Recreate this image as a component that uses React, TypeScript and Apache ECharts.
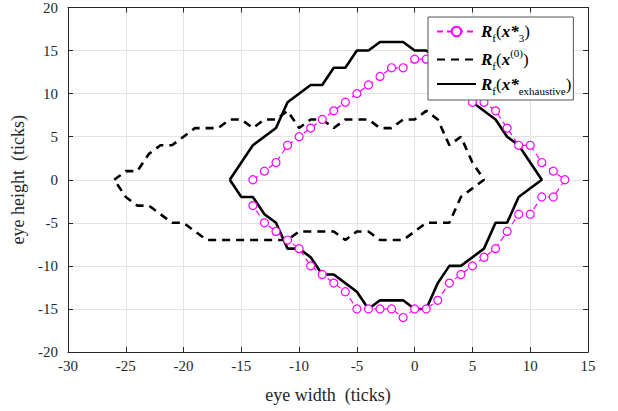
import React, { useEffect, useRef } from "react";
import * as echarts from "echarts";

// ---- data ----
const xTicksMin = -30;
const xTicksMax = 15;
const yTicksMin = -20;
const yTicksMax = 20;

// R_f(x*_3)  (magenta, dashed with circles)
const magentaX = [-14, -13, -12, -11, -10, -9, -8, -7, -6, -5, -4, -3, -2, -1, 0, 1, 2, 3, 4, 5, 6, 7, 8, 9, 10, 11, 12, 13,
  12, 11, 10, 9, 8, 7, 6, 5, 4, 3, 2, 1, 0, -1, -2, -3, -4, -5, -6, -7, -8, -9, -10, -11, -12, -13, -14];
const magentaY = [0, 1, 2, 4, 5, 6, 7, 8, 9, 10, 11, 12, 13, 13, 14, 14, 13, 12, 11, 9, 9, 8, 6, 4, 4, 2, 1, 0,
  -2, -2, -4, -4, -6, -8, -9, -10, -11, -12, -14, -15, -15, -16, -15, -15, -15, -15, -13, -12, -11, -10, -8, -7, -6, -5, -3];

// R_f(x^(0))  (black dashed)
const dashedX = [-26, -25, -24, -23, -22, -21, -20, -19, -18, -17, -16, -15, -14, -13, -12, -11, -10, -9, -8, -7, -6, -5, -4, -3, -2, -1, 0, 1, 2, 3, 4, 5, 6,
  5, 4, 3, 2, 1, 0, -1, -2, -3, -4, -5, -6, -7, -8, -9, -10, -11, -12, -13, -14, -15, -16, -17, -18, -19, -20, -21, -22, -23, -24, -25, -26];
const dashedY = [0, 1, 1, 3, 4, 4, 5, 6, 6, 6, 7, 7, 6, 7, 7, 8, 6, 7, 7, 6, 7, 7, 7, 6, 6, 7, 7, 8, 7, 4, 5, 2, 0,
  -1, -2, -5, -5, -5, -6, -7, -7, -7, -6, -6, -7, -6, -6, -6, -6, -7, -7, -7, -7, -7, -7, -7, -7, -6, -5, -5, -4, -3, -3, -2, 0];

// R_f(x*_exhaustive)  (black solid)
const solidX = [-16, -14, -12, -11, -9, -8, -7, -6, -5, -4, -3, -2, -1, 0, 1, 2, 3, 4, 5, 7, 8, 9, 11,
  9, 8, 7, 6, 4, 3, 2, 1, 0, -1, -3, -4, -5, -6, -7, -8, -9, -10, -11, -12, -13, -14, -15, -16];
const solidY = [0, 4, 6, 9, 11, 11, 13, 13, 15, 15, 16, 16, 16, 15, 15, 14, 13, 11, 9, 7, 5, 4, 0,
  -2, -5, -5, -8, -10, -10, -12, -15, -15, -14, -14, -15, -13, -12, -11, -11, -9, -8, -8, -5, -4, -2, -2, 0];

const seriesNames = ["magenta", "initial", "exhaustive"];

const zip = (xs: number[], ys: number[]) => xs.map((x, i) => [x, ys[i]]);

const SERIF = "'Liberation Serif', 'Times New Roman', serif";
const AX = "#262626";

export default function App() {
  const ref = useRef<HTMLDivElement>(null);
  useEffect(() => {
    if (!ref.current) return;
    const chart = echarts.init(ref.current, undefined, { renderer: "svg" });
    const legendLabels: Record<string, string> = {
      magenta: "{R|R}{sub|f}{p|(}{X|x*}{sub|3}{p|)}",
      initial: "{R|R}{sub|f}{p|(}{X|x}{sup|(0)}{p|)}",
      exhaustive: "{R|R}{sub|f}{p|(}{X|x*}{subw|exhaustive}{p|)}",
    };
    const tickAxisCommon = {
      axisLine: { show: true, onZero: false, lineStyle: { color: AX, width: 1 } },
      axisTick: { show: true, inside: true, length: 5, lineStyle: { color: AX } },
    };
    chart.setOption({
      animation: false,
      backgroundColor: "#ffffff",
      grid: { left: 68, right: 30, top: 5, bottom: 59, containLabel: false },
      xAxis: [
        {
          type: "value",
          min: xTicksMin,
          max: xTicksMax,
          interval: 5,
          position: "bottom",
          ...tickAxisCommon,
          axisLabel: { color: AX, fontFamily: SERIF, fontSize: 15, margin: 6 },
          splitLine: { show: true, lineStyle: { color: "#e3e3e3", width: 1 } },
          name: "eye width  (ticks)",
          nameLocation: "middle",
          nameGap: 34,
          nameTextStyle: { color: AX, fontFamily: SERIF, fontSize: 18 },
        },
        {
          type: "value",
          min: xTicksMin,
          max: xTicksMax,
          interval: 5,
          position: "top",
          ...tickAxisCommon,
          axisLabel: { show: false },
          splitLine: { show: false },
        },
      ],
      yAxis: [
        {
          type: "value",
          min: yTicksMin,
          max: yTicksMax,
          interval: 5,
          position: "left",
          ...tickAxisCommon,
          axisLabel: { color: AX, fontFamily: SERIF, fontSize: 15, margin: 10 },
          splitLine: { show: true, lineStyle: { color: "#e3e3e3", width: 1 } },
          name: "eye height  (ticks)",
          nameLocation: "middle",
          nameGap: 38,
          nameTextStyle: { color: AX, fontFamily: SERIF, fontSize: 18 },
        },
        {
          type: "value",
          min: yTicksMin,
          max: yTicksMax,
          interval: 5,
          position: "right",
          ...tickAxisCommon,
          axisLabel: { show: false },
          splitLine: { show: false },
        },
      ],
      legend: {
        orient: "vertical",
        left: 428,
        top: 17,
        selectedMode: false,
        backgroundColor: "#ffffff",
        borderColor: "#555555",
        borderWidth: 1,
        borderRadius: 0,
        padding: [6, 2, 4, 8],
        itemGap: 4,
        itemWidth: 39,
        itemHeight: 12,
        data: [
          { name: seriesNames[0] },
          { name: seriesNames[1], itemStyle: { opacity: 0 } },
          { name: seriesNames[2], itemStyle: { opacity: 0 } },
        ],
        formatter: (name: string) => legendLabels[name] || name,
        textStyle: {
          color: "#000",
          fontFamily: SERIF,
          rich: {
            R: { fontFamily: SERIF, fontSize: 17, fontWeight: "bold", fontStyle: "italic", lineHeight: 24, color: "#000" },
            X: { fontFamily: SERIF, fontSize: 17, fontWeight: "bold", fontStyle: "italic", lineHeight: 24, color: "#000" },
            p: { fontFamily: SERIF, fontSize: 17, lineHeight: 24, color: "#000" },
            sub: { fontFamily: SERIF, fontSize: 11, lineHeight: 10, verticalAlign: "bottom", color: "#000" },
            subw: { fontFamily: SERIF, fontSize: 11, lineHeight: 10, verticalAlign: "bottom", color: "#000" },
            sup: { fontFamily: SERIF, fontSize: 11, lineHeight: 12, verticalAlign: "top", color: "#000" },
          },
        },
      },
      series: [
        {
          name: seriesNames[0],
          type: "line",
          xAxisIndex: 0,
          yAxisIndex: 0,
          data: zip(magentaX, magentaY),
          symbol: "circle",
          symbolSize: 8,
          itemStyle: { color: "#ffffff", borderColor: "#ff00ff", borderWidth: 1.2 },
          lineStyle: { color: "#ff00ff", width: 1.2, type: [6, 4] },
          z: 3,
        },
        {
          name: seriesNames[1],
          type: "line",
          xAxisIndex: 0,
          yAxisIndex: 0,
          data: zip(dashedX, dashedY),
          symbol: "none",
          itemStyle: { color: "#000000" },
          lineStyle: { color: "#000000", width: 2.6, type: [8, 6] },
          z: 2,
        },
        {
          name: seriesNames[2],
          type: "line",
          xAxisIndex: 0,
          yAxisIndex: 0,
          data: zip(solidX, solidY),
          symbol: "none",
          itemStyle: { color: "#000000" },
          lineStyle: { color: "#000000", width: 2.6, type: "solid" },
          z: 2,
        },
      ],
    });
    return () => chart.dispose();
  }, []);
  return <div ref={ref} style={{ width: 618, height: 411, position: "absolute", left: 0, top: 0 }} />;
}
